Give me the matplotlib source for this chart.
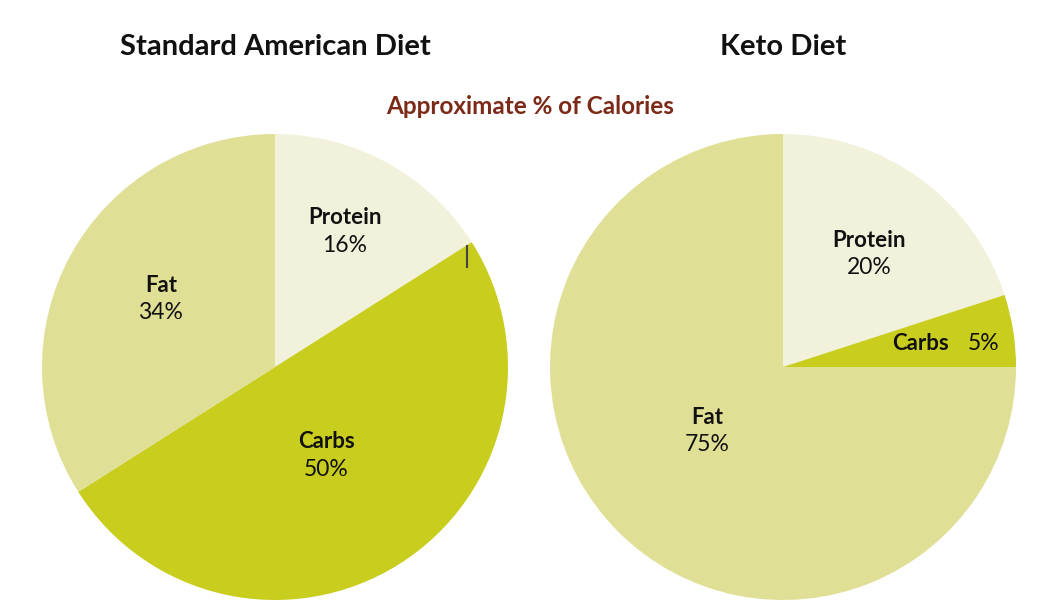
import matplotlib
matplotlib.use("Agg")
import matplotlib.pyplot as plt

plt.rcParams['font.family'] = ['Lato', 'DejaVu Sans']

# data
labels = ['Protein', 'Carbs', 'Fat']
sad_values = [16, 50, 34]
keto_values = [20, 5, 75]
colors = ['#f2f2dc', '#c8cd1e', '#dfe095']

fig = plt.figure(figsize=(10.44, 6.13), dpi=100)
fig.patch.set_facecolor('white')

R = 233.0
W, H = 1044.0, 613.0

def make_axes(cx, cy):
    ax = fig.add_axes([(cx - R) / W, (H - cy - R) / H, 2 * R / W, 2 * R / H])
    return ax

def fix(ax):
    ax.set_xlim(-1, 1)
    ax.set_ylim(-1, 1)
    ax.axis('off')

def lab(ax, x, y, name, pct, sep=0.118):
    ax.text(x, y, name, ha='center', va='center', fontsize=16, fontweight='bold', color='#111111')
    ax.text(x, y - sep, pct, ha='center', va='center', fontsize=16.5, color='#111111')

# left pie
ax1 = make_axes(275, 367)
ax1.pie(sad_values, colors=colors, startangle=90, counterclock=False, radius=1,
        wedgeprops=dict(linewidth=0))
fix(ax1)
lab(ax1, 0.30, 0.64, 'Protein', '16%')
lab(ax1, 0.22, -0.32, 'Carbs', '50%')
lab(ax1, -0.49, 0.35, 'Fat', '34%')
ax1.plot([0.826, 0.826], [0.43, 0.52], color='#444444', lw=1.5)

# right pie
ax2 = make_axes(783, 367)
ax2.pie(keto_values, colors=colors, startangle=90, counterclock=False, radius=1,
        wedgeprops=dict(linewidth=0))
fix(ax2)
lab(ax2, 0.37, 0.545, 'Protein', '20%')
ax2.text(0.59, 0.10, 'Carbs', ha='center', va='center', fontsize=16, fontweight='bold', color='#111111')
ax2.text(0.86, 0.10, '5%', ha='center', va='center', fontsize=16.5, color='#111111')
lab(ax2, -0.325, -0.215, 'Fat', '75%')

fig.text(275 / W, 1 - 47 / H, 'Standard American Diet', ha='center', va='center',
         fontsize=21, fontweight='bold', color='#111111')
fig.text(783 / W, 1 - 47 / H, 'Keto Diet', ha='center', va='center',
         fontsize=21, fontweight='bold', color='#111111')
fig.text(530 / W, 1 - 106 / H, 'Approximate % of Calories', ha='center', va='center',
         fontsize=17.5, fontweight='bold', color='#7b2a17')

fig.savefig('out.png', dpi=100, facecolor='white')
